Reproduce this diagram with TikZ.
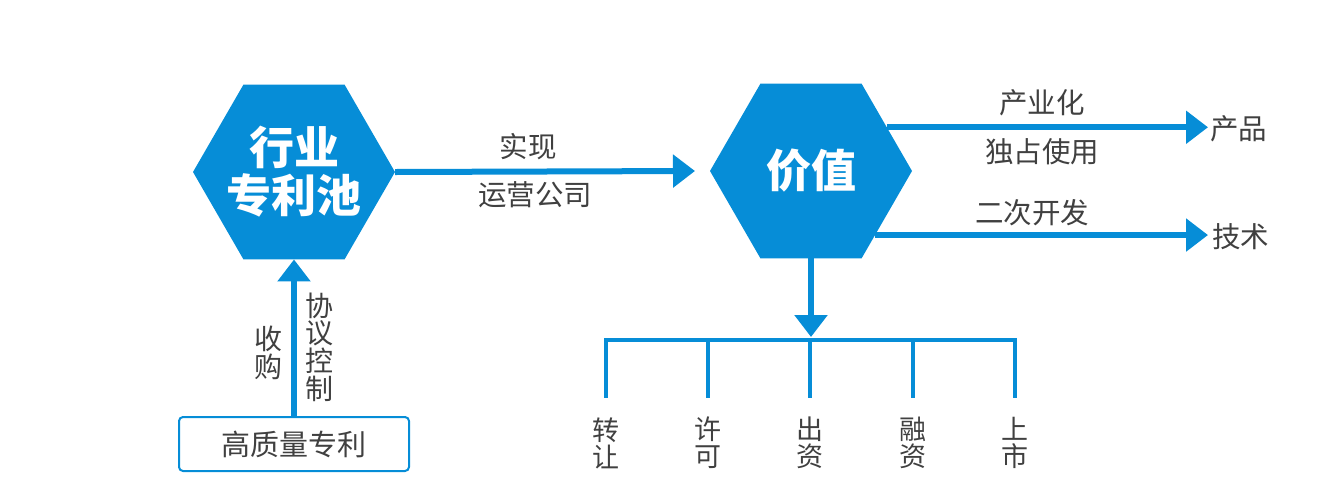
\documentclass[tikz,border=0pt]{standalone}
\usepackage{fontspec}
\setmainfont{Noto Sans CJK SC}
\usetikzlibrary{shapes.geometric,arrows.meta}
\definecolor{blu}{RGB}{6,141,215}
\definecolor{txt}{RGB}{64,64,64}
\begin{document}
\begin{tikzpicture}[x=1pt,y=-1pt,
  hexa/.style={regular polygon, regular polygon sides=6, minimum size=202pt, fill=blu, draw=none,
    inner sep=0pt, outer sep=0pt},
  hext/.style={text=white, font=\fontsize{45}{48}\selectfont\bfseries, align=center, inner sep=0pt},
  lbl/.style={text=txt, font=\fontsize{28.5}{29}\selectfont, inner sep=0pt},
  vlbl/.style={text=txt, align=center, inner sep=0pt, font=\fontsize{27}{27}\selectfont},
  vlbb/.style={text=txt, align=center, inner sep=0pt, font=\fontsize{28}{27.7}\selectfont},
  big/.style={draw=blu, line width=6pt, -{Triangle[width=32pt,length=22pt]}},
  thinl/.style={draw=blu, line width=3.5pt},
  ]
\useasboundingbox (0,0) rectangle (1340,499);
\node[hexa] (pool) at (294,172) {};
\node[hext] (poolt) at (pool.center) {行业\\专利池};
\node[hexa] (val) at (811,171) {};
\node[hext] (valt) at (val.center) {价值};
\node[draw=blu, line width=2pt, rounded corners=4pt, minimum width=230pt, minimum height=54pt,
  inner sep=0pt, text=txt, font=\fontsize{29}{30}\selectfont] (box) at (294,444) {高质量专利};
\draw[big] (box.north) -- (pool.south);
\draw[big] (pool.east) -- ([xshift=-15pt]val.west);
\node[lbl] (shix) at (528,147) {实现};
\node[lbl] (yygs) at (535,195) {运营公司};
\node[lbl, anchor=west] (prod) at (1210,129) {产品};
\node[lbl, anchor=west] (tech) at (1212,237) {技术};
\draw[big] (val.30) -- ([xshift=-2pt]val.30 -| prod.west);
\draw[big] (val.-45) -- ([xshift=-4pt]val.-45 -| tech.west);
\node[lbl] (cyh) at (1042,103) {产业化};
\node[lbl] (dzsy) at (1042,152) {独占使用};
\node[lbl] (ecfk) at (1032,213) {二次开发};
\node[vlbb] (sg) at (268,353) {收\\购};
\node[vlbb] (xykz) at (319,347) {协\\议\\控\\制};
\coordinate (brk) at (811,340);
\draw[big] (val.south) -- ([yshift=3pt]brk);
\foreach \x/\a/\b [count=\i] in {606/转/让, 708/许/可, 810/出/资, 913/融/资, 1015/上/市} {
  \node[vlbl] (v\i) at (\x,443) {\a\\\b};
  \draw[thinl] (v\i |- brk) -- ++(0,58);
}
\draw[thinl, line cap=rect] (v1 |- brk) -- (v5 |- brk);
\end{tikzpicture}
\end{document}
